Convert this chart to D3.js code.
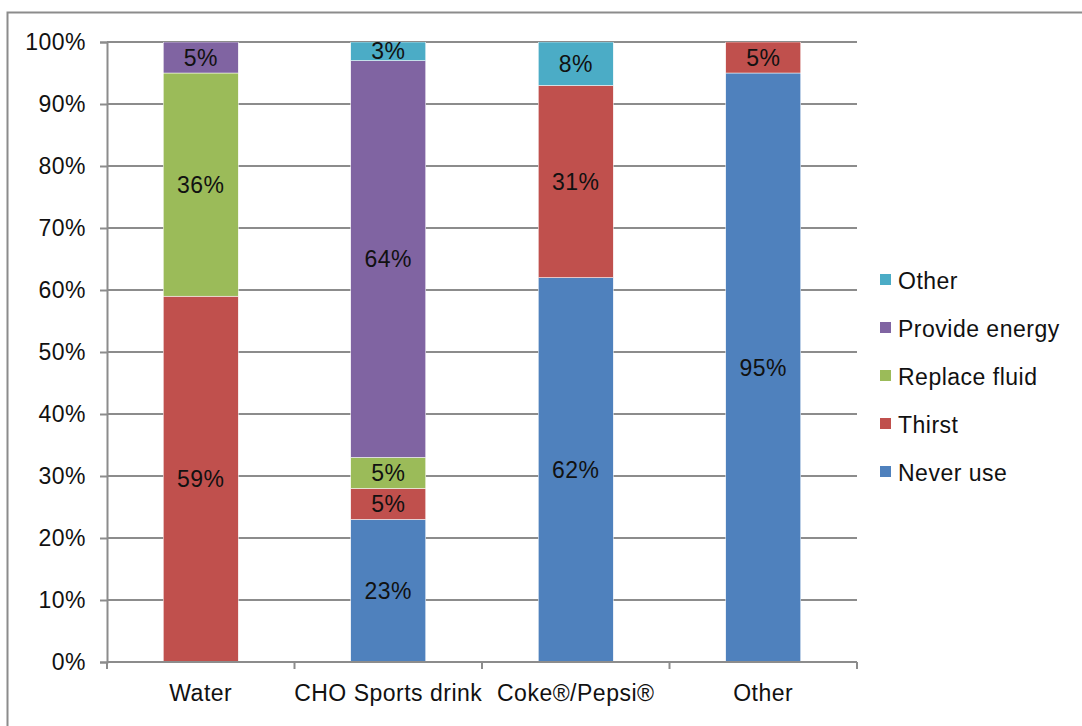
<!DOCTYPE html>
<html>
<head>
<meta charset="utf-8">
<script src="https://cdn.jsdelivr.net/npm/d3@7/dist/d3.min.js"></script>
<style>
  html, body { margin: 0; padding: 0; background: #fff; }
  svg { display: block; font-family: "Liberation Sans", Arial, Helvetica, sans-serif; }
  svg text { letter-spacing: 0.5px; }
</style>
</head>
<body>
<svg id="chart" width="1082" height="726"></svg>
<script>
// Drink categories along the x axis
const categories = ["Water", "CHO Sports drink", "Coke®/Pepsi®", "Other"];

// Reasons for use, stacked bottom to top (percent of respondents)
const neverUse      = [0, 23, 62, 95];
const thirst        = [59, 5, 31, 5];
const replaceFluid  = [36, 5, 0, 0];
const provideEnergy = [5, 64, 0, 0];
const other         = [0, 3, 8, 0];

const seriesNames  = ["Never use", "Thirst", "Replace fluid", "Provide energy", "Other"];
const seriesValues = [neverUse, thirst, replaceFluid, provideEnergy, other];
const seriesColors = ["#4F81BD", "#C0504D", "#9BBB59", "#8064A2", "#4BACC6"];

const yTicks = [0, 10, 20, 30, 40, 50, 60, 70, 80, 90, 100];

const FS = 23;
const svg = d3.select("#chart");
const margin = { left: 107, right: 225, top: 42, bottom: 64 };
const W = 1082, H = 726;

// outer frame (left and top edges)
svg.append("path")
  .attr("d", `M7.5,726 V12.5 H1082`)
  .attr("fill", "none").attr("stroke", "#8c8c8c").attr("stroke-width", 2);

const x = d3.scaleBand().domain(categories)
  .range([margin.left, W - margin.right]).paddingInner(0).paddingOuter(0);
const y = d3.scaleLinear().domain([0, 100]).range([H - margin.bottom, margin.top]);

const rows = categories.map((c, i) => {
  const r = { category: c };
  seriesNames.forEach((s, j) => r[s] = seriesValues[j][i]);
  return r;
});
const stacked = d3.stack().keys(seriesNames)(rows);

// horizontal gridlines
svg.append("g").selectAll("line").data(yTicks).join("line")
  .attr("x1", margin.left).attr("x2", W - margin.right)
  .attr("y1", d => y(d)).attr("y2", d => y(d))
  .attr("stroke", "#8c8c8c").attr("stroke-width", 2);

// clip bars to the plot area
svg.append("clipPath").attr("id", "plot")
  .append("rect").attr("x", margin.left).attr("y", margin.top)
  .attr("width", W - margin.right - margin.left).attr("height", H - margin.bottom - margin.top);

const barW = x.bandwidth() * 0.4;
const barX = c => x(c) + (x.bandwidth() - barW) / 2;

const layers = svg.append("g").attr("clip-path", "url(#plot)")
  .selectAll("g").data(stacked).join("g")
  .attr("fill", (d, i) => seriesColors[i]);

layers.selectAll("rect").data(d => d.filter(p => p[1] - p[0] > 0)).join("rect")
  .attr("x", d => barX(d.data.category))
  .attr("width", barW)
  .attr("y", d => y(Math.min(d[1], 100)))
  .attr("height", d => y(d[0]) - y(Math.min(d[1], 100)))
  .attr("stroke", "#fff").attr("stroke-width", 0.5);

// value labels centred in the visible part of each segment
const labels = svg.append("g");
stacked.forEach(layer => {
  layer.forEach(p => {
    const v = p[1] - p[0];
    if (v <= 0) return;
    const top = Math.min(p[1], 100);
    labels.append("text")
      .attr("x", barX(p.data.category) + barW / 2)
      .attr("y", (y(p[0]) + y(top)) / 2)
      .attr("text-anchor", "middle").attr("dominant-baseline", "central")
      .attr("font-size", FS).attr("fill", "#111")
      .text(v + "%");
  });
});

// y axis
const yAxis = svg.append("g").attr("transform", `translate(${margin.left},0)`)
  .call(d3.axisLeft(y).tickValues(yTicks).tickSize(7).tickFormat(d => d + "%"));
yAxis.select(".domain").attr("stroke", "#8c8c8c").attr("stroke-width", 2);
yAxis.selectAll(".tick line").attr("stroke", "#8c8c8c").attr("stroke-width", 2);
yAxis.selectAll(".tick text").attr("font-size", FS).attr("fill", "#111")
  .attr("x", -21).attr("font-family", "Liberation Sans, Arial, sans-serif");

// x axis with tick marks at category boundaries
const xg = svg.append("g").attr("transform", `translate(0,${H - margin.bottom})`);
xg.append("line").attr("x1", margin.left).attr("x2", W - margin.right)
  .attr("stroke", "#8c8c8c").attr("stroke-width", 2);
const bounds = categories.map(c => x(c)).concat([x(categories[categories.length - 1]) + x.bandwidth()]);
xg.selectAll(".bt").data(bounds).join("line").attr("class", "bt")
  .attr("x1", d => d).attr("x2", d => d).attr("y1", 0).attr("y2", 7)
  .attr("stroke", "#8c8c8c").attr("stroke-width", 2);
xg.selectAll("text").data(categories).join("text")
  .attr("x", d => x(d) + x.bandwidth() / 2).attr("y", 39)
  .attr("text-anchor", "middle").attr("font-size", FS).attr("fill", "#111")
  .text(d => d);

// legend, top entry is the top of the stack
const legendItems = seriesNames.map((n, i) => ({ name: n, color: seriesColors[i] })).reverse();
const lg = svg.append("g").attr("transform", "translate(880,281)");
const li = lg.selectAll("g").data(legendItems).join("g")
  .attr("transform", (d, i) => `translate(0,${i * 48})`);
li.append("rect").attr("x", 0).attr("y", -7).attr("width", 11).attr("height", 11)
  .attr("fill", d => d.color);
li.append("text").attr("x", 18).attr("y", 0).attr("dominant-baseline", "central")
  .attr("font-size", FS).attr("fill", "#111").text(d => d.name);
</script>
</body>
</html>
